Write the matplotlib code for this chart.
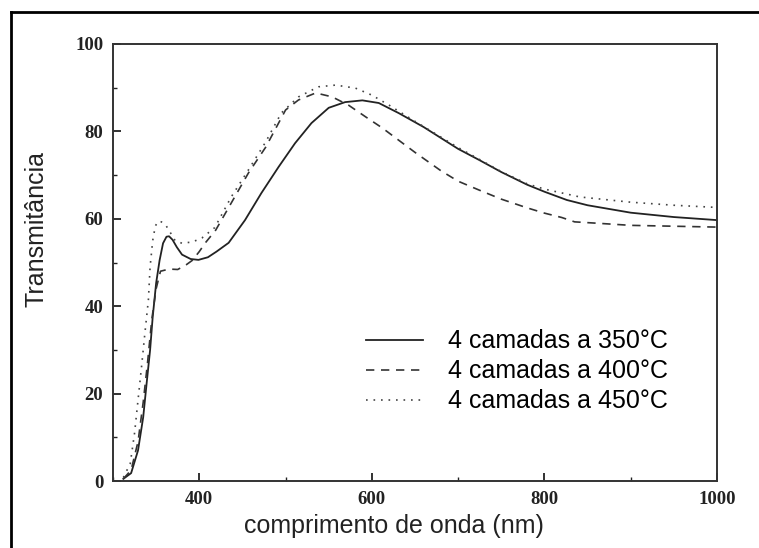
"""Transmitância vs comprimento de onda for 4-layer films at three temperatures."""
import matplotlib
matplotlib.use("Agg")
import matplotlib.pyplot as plt
from matplotlib.lines import Line2D
from matplotlib.ticker import MultipleLocator

# --- values ---
WL_350 = [312, 321, 329, 335, 339, 343, 346, 350, 354, 358, 362, 365, 369, 374,
          380, 390, 399, 410, 420, 434, 453, 472, 492, 511, 530, 550, 569, 589,
          608, 631, 660, 700, 724, 750, 780, 800, 826, 850, 900, 950, 1000]
T_350 = [0.5, 1.8, 7.0, 14.6, 22.4, 30.0, 37.5, 45.3, 50.5, 54.4, 55.9, 56.0, 55.2,
         53.5, 51.8, 50.8, 50.6, 51.2, 52.5, 54.5, 59.7, 65.9, 71.9, 77.3, 81.9, 85.4,
         86.7, 87.1, 86.5, 84.2, 81.0, 76.0, 73.5, 70.7, 67.8, 66.2, 64.3, 63.1,
         61.4, 60.4, 59.7]

WL_400 = [312, 321, 329, 335, 340, 345, 350, 355, 365, 375, 385, 392, 400, 407,
          419, 437, 457, 477, 500, 515, 535, 554, 573, 593, 612, 631, 650, 680,
          700, 724, 750, 780, 800, 820, 835, 860, 900, 950, 1000]
T_400 = [0.5, 2.5, 9.0, 18.0, 27.0, 37.0, 44.0, 48.0, 48.5, 48.4, 49.5, 50.5, 52.5,
         54.5, 57.4, 63.6, 70.5, 76.4, 84.9, 87.2, 88.8, 87.9, 86.0, 83.3, 80.8,
         78.0, 75.2, 71.0, 68.6, 66.6, 64.5, 62.5, 61.3, 60.3, 59.3, 59.0, 58.5,
         58.3, 58.1]

WL_450 = [312, 320, 325, 329, 333, 337, 341, 343, 346, 349, 352, 356, 361, 366,
          372, 380, 392, 403, 418, 437, 457, 477, 495, 515, 538, 558, 581, 600,
          620, 650, 700, 750, 780, 800, 841, 900, 950, 1000]
T_450 = [0.8, 4.0, 11.0, 18.5, 26.0, 33.9, 41.4, 49.0, 55.0, 58.3, 59.4, 59.3, 58.6,
         57.0, 55.0, 54.4, 54.7, 55.6, 58.0, 65.0, 71.2, 77.6, 84.2, 87.9, 90.2,
         90.6, 89.9, 88.3, 86.0, 82.3, 76.3, 70.8, 68.0, 66.8, 65.0, 63.8, 63.1, 62.6]

LABELS = ["4 camadas a 350°C", "4 camadas a 400°C", "4 camadas a 450°C"]

W, H = 759, 548
TICK_FONT = {"family": "Liberation Serif", "weight": "bold", "size": 13.5}
LABEL_FONT = {"family": "Liberation Sans", "size": 18}


def main():
    fig = plt.figure(figsize=(W / 100, H / 100), dpi=100)
    ax = fig.add_axes([113 / W, 1 - 481 / H, (717 - 113) / W, (481 - 44) / H])

    ax.plot(WL_350, T_350, color="#222222", lw=1.3, ls="-")
    ax.plot(WL_400, T_400, color="#333333", lw=1.2, ls=(0, (5, 4)))
    ax.plot(WL_450, T_450, color="#444444", lw=1.2, ls=(0, (1, 3.5)))

    ax.set_xlim(300, 1000)
    ax.set_ylim(0, 100)
    ax.xaxis.set_minor_locator(MultipleLocator(100))
    ax.yaxis.set_major_locator(MultipleLocator(20))
    ax.yaxis.set_minor_locator(MultipleLocator(10))
    ax.set_xticks([400, 600, 800, 1000])
    ax.tick_params(which="major", direction="in", length=6, width=1.3,
                   colors="#222222", pad=7)
    ax.tick_params(which="minor", direction="in", length=3, width=1.0,
                   colors="#222222")
    for lab in ax.get_xticklabels() + ax.get_yticklabels():
        lab.set_fontproperties(TICK_FONT)
    for sp in ax.spines.values():
        sp.set_linewidth(1.4)
        sp.set_color("#333333")

    # axis titles, placed as in the reference (slightly left / above centre)
    fig.text(394 / W, 1 - 526 / H, "comprimento de onda (nm)", ha="center",
             va="center", color="#222222", **LABEL_FONT)
    fig.text(37 / W, 1 - 229 / H, "Transmitância", ha="center", va="center",
             rotation=90, color="#222222", **LABEL_FONT)

    handles = [
        Line2D([], [], color="#222222", lw=1.3, ls="-"),
        Line2D([], [], color="#333333", lw=1.2, ls=(0, (5, 4))),
        Line2D([], [], color="#444444", lw=1.2, ls=(0, (1, 3.5))),
    ]
    ax.legend(handles, LABELS, loc="upper left",
              bbox_to_anchor=((366 - 113 - 8) / 604, (481 - 322) / 437),
              frameon=False, handlelength=2.3, handletextpad=1.0,
              labelspacing=0.24, borderpad=0.3, borderaxespad=0,
              prop={"family": "Liberation Sans", "size": 18})

    # partial outer frame (top and left edges)
    fig.add_artist(Line2D([11 / W, 1.0], [1 - 12 / H, 1 - 12 / H],
                          transform=fig.transFigure, color="black", lw=2))
    fig.add_artist(Line2D([11 / W, 11 / W], [0, 1 - 12 / H],
                          transform=fig.transFigure, color="black", lw=2))

    fig.savefig("out.png", dpi=100)


if __name__ == "__main__":
    main()
